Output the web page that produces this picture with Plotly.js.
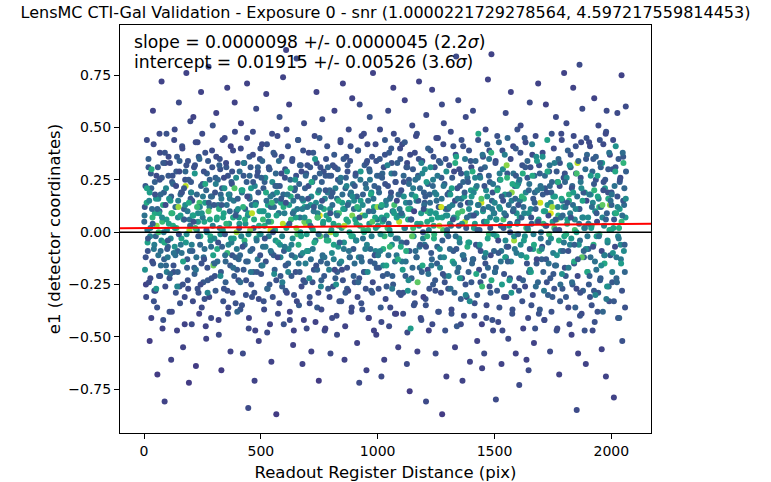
<!DOCTYPE html>
<html>
<head>
<meta charset="utf-8">
<script src="https://cdn.plot.ly/plotly-3.0.1.min.js"></script>
<style>
  html, body { margin: 0; padding: 0; background: #fff; }
  #chart { width: 771px; height: 482px; }
</style>
</head>
<body>
<div id="chart"></div>
<script>
// galaxies, one line per 100 pix strip of the register
// wide spread (incl. the outliers)
var readoutDist = [
  3,8,12,15,19,24,27,31,35,38,42,46,50,53,57,61,64,68,71,75,78,82,85,88,91,94,96,98,44,66,
  102,105,109,113,116,120,124,127,131,134,138,141,145,149,152,156,160,163,167,171,174,178,181,185,188,192,195,198,143,176,
  201,204,208,211,215,218,222,226,229,233,237,240,244,247,251,255,258,262,266,269,273,276,280,284,287,291,294,298,231,259,
  303,306,309,313,317,320,324,327,331,334,338,342,345,349,352,356,359,363,367,370,374,377,381,384,388,392,395,398,328,361,
  401,405,408,412,415,419,423,426,430,433,437,441,444,448,451,455,458,462,466,469,473,476,480,483,487,491,494,498,446,452,
  502,505,509,512,516,520,523,527,530,534,537,541,545,548,552,555,559,563,566,570,573,577,580,584,588,591,595,598,565,543,
  603,606,610,613,617,621,624,628,631,635,638,642,646,649,653,656,660,663,667,671,674,678,681,685,689,692,696,699,608,687,
  702,705,709,713,716,720,723,727,730,734,738,741,745,748,752,755,759,763,766,770,773,777,780,784,788,791,795,798,743,757,
  801,805,808,812,815,819,823,826,830,833,837,841,844,848,851,855,858,862,866,869,873,876,880,883,887,891,894,898,827,871,
  902,905,909,912,916,919,923,927,930,934,937,941,944,948,952,955,959,962,966,969,973,977,980,984,987,991,994,998,921,964,
  1003,1006,1010,1013,1017,1020,1024,1028,1031,1035,1038,1042,1045,1049,1052,1056,1060,1063,1067,1070,1074,1077,1081,1085,1088,1092,1095,1099,1016,1058,
  1102,1105,1109,1112,1116,1120,1123,1127,1130,1134,1137,1141,1145,1148,1152,1155,1159,1162,1166,1170,1173,1177,1180,1184,1187,1191,1194,1198,1125,1168,
  1201,1205,1208,1212,1215,1219,1223,1226,1230,1233,1237,1240,1244,1248,1251,1255,1258,1262,1266,1269,1273,1276,1280,1283,1287,1291,1294,1298,1207,1275,
  1302,1306,1309,1313,1316,1320,1324,1327,1331,1334,1338,1341,1345,1349,1352,1356,1359,1363,1366,1370,1374,1377,1381,1384,1388,1391,1395,1398,1336,1361,
  1401,1404,1408,1412,1415,1419,1422,1426,1430,1433,1437,1440,1444,1447,1451,1455,1458,1462,1465,1469,1472,1476,1480,1483,1487,1490,1494,1498,1456,1478,
  1502,1505,1509,1512,1516,1520,1523,1527,1530,1534,1538,1541,1545,1548,1552,1555,1559,1563,1566,1570,1573,1577,1580,1584,1587,1591,1595,1598,1506,1549,
  1601,1605,1608,1612,1616,1619,1623,1626,1630,1633,1637,1641,1644,1648,1651,1655,1658,1662,1666,1669,1673,1676,1680,1683,1687,1690,1694,1698,1606,1646,
  1702,1706,1709,1713,1716,1720,1724,1727,1731,1734,1738,1741,1745,1748,1752,1756,1759,1763,1766,1770,1773,1777,1780,1784,1788,1791,1795,1798,1743,1767,
  1801,1805,1808,1812,1816,1819,1823,1826,1830,1833,1837,1841,1844,1848,1851,1855,1858,1862,1866,1869,1873,1876,1880,1883,1887,1891,1894,1898,1852,1864,
  1902,1905,1909,1912,1916,1920,1923,1927,1930,1934,1937,1941,1945,1948,1952,1955,1959,1962,1966,1970,1973,1977,1980,1984,1987,1991,1994,1998,1926,1978,
  2001,2004,2008,2011,2015,2018,2022,2026,2029,2033,2036,2040,2044,2047,2051,2055,2058,2062
];

var e1 = [
  .12,-.25,.44,-.05,.31,-.52,.02,.21,-.14,.58,-.33,.09,-.02,.27,-.68,.16,-.21,.38,-.09,.72,.05,-.42,.19,-.81,.33,-.16,.47,.01,-.28,.10,
  -.07,.36,-.38,.15,-.61,.24,.03,-.19,.49,-.11,.29,-.47,.07,.62,-.26,.18,-.03,.41,-.55,.11,-.31,.22,.76,-.13,.34,-.72,.06,.53,-.09,.25,
  .19,-.44,.08,.55,-.17,.32,-.64,.01,.43,-.29,.14,-.06,.67,-.36,.23,-.12,.05,.38,-.51,.28,-.23,.79,.12,-.02,-.41,.17,.51,-.15,.09,-.32,
  -.21,.26,.57,-.08,.13,-.49,.35,-.01,-.66,.21,.07,-.27,.45,-.14,.31,.69,-.39,.04,.16,-.57,.24,-.11,.39,-.03,.62,-.34,.10,-.18,.18,-.06,
  .33,-.13,.04,-.37,.52,.19,-.58,.27,-.04,.11,-.23,.71,.08,-.46,.36,-.09,.21,-.31,.48,.02,-.71,.14,.59,-.19,.29,-.52,-.01,.40,-.84,.16,
  -.16,.42,.06,-.33,.24,-.07,.66,-.48,.13,.31,-.25,.01,-.62,.47,.18,-.11,.37,-.04,-.87,.22,-.39,.09,.55,-.21,.28,-.02,.74,-.44,.15,.12,
  .26,-.28,.49,.03,-.15,.61,-.42,.17,-.06,.35,-.54,.10,.21,-.19,.83,-.01,.44,-.35,.07,-.11,.29,-.63,.15,.52,-.24,.04,-.46,.32,.87,.12,
  -.09,.38,-.31,.13,-.57,.24,.01,-.18,.46,-.04,.67,-.36,.19,-.71,.08,.31,-.23,.54,-.12,.11,-.47,.27,-.02,.41,-.27,.06,.20,-.58,.09,-.14,
  .17,-.41,.32,-.06,.58,-.22,.09,-.49,.25,.03,-.15,.43,-.33,.14,.71,-.08,-.61,.21,.36,-.27,.05,.49,-.12,.18,-.38,.64,-.02,.11,-.19,.29,
  -.24,.27,.04,-.53,.39,-.12,.61,.15,-.34,.08,-.03,.47,-.19,.23,-.66,.34,.01,-.41,.55,-.08,.19,-.29,.76,.12,-.15,.42,-.49,.06,-.72,.30,
  .21,-.17,.49,-.36,.07,.28,-.08,-.61,.37,.13,-.26,.02,.58,-.45,.16,-.01,.33,-.21,.69,.09,-.39,.24,-.11,.44,-.55,.05,.18,-.30,-.69,.40,
  -.05,.42,-.29,.17,.63,-.14,.31,-.48,.06,.25,-.76,.11,-.22,.51,.02,-.35,.38,-.09,.15,-.57,.27,.72,-.17,.04,-.42,.34,-.03,.19,-.63,.47,
  .14,-.32,.56,-.02,.23,-.47,.09,.39,-.16,.68,-.25,.03,.31,-.58,.18,-.07,.45,-.38,.12,-.12,.26,-.87,.01,.52,-.21,.35,-.69,.08,-.81,.61,
  -.27,.19,.04,.48,-.39,.13,-.09,.29,-.55,.37,.07,-.19,.63,-.03,.22,-.44,.16,-.71,.41,-.13,.05,.55,-.31,.26,-.05,.11,-.62,.34,.84,-.22,
  .31,-.15,.58,.02,-.34,.21,.09,-.52,.44,-.07,.27,-.24,.14,-.65,.36,.05,-.12,.49,-.41,.17,.73,-.01,.24,-.29,.85,.11,-.47,-.09,-.58,.39,
  -.19,.34,-.02,.46,-.43,.12,.25,-.14,-.63,.39,.06,-.31,.18,.57,-.07,.28,-.51,.03,-.22,.67,.15,-.37,.41,-.04,.22,-.58,.09,.49,-.80,-.12,
  .23,-.28,.07,.51,-.11,.32,-.46,.16,-.02,.43,-.61,.26,.01,-.19,.62,.11,-.35,.37,-.08,-.53,.19,.46,-.15,.05,.71,-.39,.28,-.03,-.73,-.66,
  -.13,.38,.04,-.42,.21,.61,-.24,.13,-.05,.29,-.57,.09,.47,-.31,.17,.02,-.16,.55,-.47,.24,.08,-.68,.33,-.09,.44,-.27,.12,.76,.19,.06,
  .28,-.21,.52,.06,-.36,.15,-.06,.37,-.49,.22,.69,-.15,.01,.41,-.27,.33,-.58,.11,-.04,.26,-.39,.59,.07,-.12,.19,-.63,.45,-.02,-.85,.80,
  -.08,.43,-.31,.18,.03,-.47,.35,.64,-.14,.25,-.02,-.38,.51,.12,-.23,.31,-.56,.07,.42,-.11,.21,-.69,.58,-.05,.16,-.33,.37,.01,-.28,.48,
  .19,-.24,.44,-.79,.09,.31,-.12,.57,-.41,.02,.24,-.06,.75,-.52,.36,.13,-.19,.60
];

var snr = [
  1.6,1.4,1.5,2.9,1.7,1.3,2.2,1.8,1.5,1.4,1.6,3.0,1.9,1.5,1.3,2.4,1.7,1.5,2.0,1.4,3.3,1.6,1.8,1.4,1.5,1.9,1.6,2.6,1.7,1.8,
  1.8,1.5,1.6,2.8,1.4,1.7,3.1,1.6,1.5,2.0,1.7,1.4,2.5,1.5,1.6,1.9,2.9,1.6,1.4,1.8,1.5,4.2,1.4,1.7,1.6,1.3,2.1,1.5,1.8,1.6,
  1.7,1.5,2.7,1.4,1.8,1.6,1.3,2.3,1.5,1.6,3.4,1.9,1.4,1.5,1.7,2.0,2.9,1.6,1.4,1.8,1.7,1.5,2.2,3.0,1.5,1.9,1.6,1.8,2.5,1.6,
  1.6,1.8,1.4,3.0,2.1,1.5,1.6,2.6,1.3,1.7,2.9,1.6,1.5,1.9,1.7,1.4,1.5,4.0,2.2,1.4,1.8,1.6,1.5,2.8,1.4,1.6,2.0,1.7,1.9,2.4,
  1.5,1.9,2.7,1.6,1.4,2.1,1.5,1.7,3.2,1.8,1.6,1.4,2.4,1.5,1.7,2.0,2.8,1.6,1.5,1.9,1.4,2.3,1.5,1.7,1.6,1.4,3.1,1.6,1.5,1.8,
  1.7,1.5,3.3,1.6,1.8,2.2,1.4,1.5,2.9,1.6,1.7,4.3,1.4,1.5,2.0,1.8,1.6,2.6,1.3,1.9,1.5,3.0,1.6,1.7,1.5,2.4,1.4,1.6,2.1,1.9,
  1.6,1.7,1.5,2.8,1.9,1.4,1.5,3.1,2.3,1.6,1.4,2.7,1.8,1.6,1.5,3.4,1.6,1.7,2.1,1.9,1.5,1.4,2.6,1.5,1.7,4.1,1.5,1.6,1.4,2.9,
  1.9,1.5,1.6,2.7,1.4,1.8,3.2,1.6,1.5,2.2,1.4,1.7,2.9,1.3,4.4,1.6,1.8,1.5,2.5,3.0,1.5,1.7,2.1,1.6,1.7,2.8,1.9,1.5,2.4,1.8,
  1.7,1.5,1.6,2.9,1.4,1.8,2.5,1.5,1.7,3.3,2.0,1.5,1.6,2.8,1.4,2.2,1.4,1.9,1.6,1.7,3.1,1.5,2.4,1.8,1.5,1.4,2.7,2.0,1.8,1.6,
  1.6,1.8,3.0,1.4,1.6,2.3,1.5,2.8,1.6,4.0,2.1,1.5,1.7,1.9,1.4,1.6,3.2,1.5,1.6,2.0,2.6,1.7,1.4,2.9,1.8,1.5,1.4,2.2,1.5,1.7,
  1.7,1.6,1.5,1.7,2.8,1.9,3.1,1.4,1.6,2.4,1.7,3.4,1.5,1.5,2.0,2.7,1.6,1.8,1.4,2.9,1.5,1.7,2.2,1.6,1.4,4.2,1.9,1.6,1.5,1.7,
  1.9,1.5,1.6,2.6,1.4,2.1,1.6,1.5,3.0,1.7,1.3,2.8,1.8,1.5,3.3,1.6,1.5,2.0,2.5,1.4,1.7,1.4,1.9,3.1,1.6,1.5,2.4,1.8,1.5,1.6,
  1.7,1.6,1.5,3.2,1.8,1.4,2.7,1.6,2.2,1.4,1.7,3.0,1.6,1.5,2.4,1.9,1.5,1.6,2.9,2.1,1.7,1.3,3.5,1.5,1.8,1.6,1.4,2.6,1.5,1.5,
  1.6,1.8,2.9,1.5,1.6,2.3,1.7,1.5,1.4,1.6,3.2,1.9,1.5,2.7,1.7,1.5,2.1,1.4,1.6,1.8,4.1,1.5,1.6,2.0,3.0,2.5,1.4,1.7,1.5,1.6,
  1.5,1.9,1.5,2.8,1.6,3.1,2.4,1.4,1.6,1.9,1.7,1.6,4.3,1.4,1.6,2.9,2.0,1.5,1.6,2.6,1.4,3.3,1.8,1.7,1.4,2.2,1.5,1.9,1.5,1.6,
  1.7,1.5,3.0,1.6,1.5,2.5,1.8,2.1,1.4,1.6,3.4,1.6,2.7,1.5,1.9,1.7,1.5,2.8,1.6,1.4,2.3,1.6,1.5,4.0,1.8,1.4,2.6,1.6,1.5,2.0,
  1.6,1.7,2.9,1.5,2.2,1.6,1.4,3.1,2.6,1.5,1.4,1.7,3.3,1.8,1.5,2.4,1.6,1.5,2.8,1.4,1.9,1.5,1.7,3.0,1.4,1.6,1.8,2.1,1.5,1.5,
  1.8,1.5,3.2,1.5,1.7,1.4,1.6,2.7,2.0,1.6,1.5,4.4,1.6,1.7,2.9,3.5,1.8,1.5,1.6,2.2,3.0,1.4,1.6,2.5,1.5,1.7,2.8,1.4,1.9,4.0,
  1.6,1.7,1.5,2.8,1.5,3.1,2.3,1.6,1.4,1.9,1.4,1.7,3.4,1.6,1.5,4.2,1.4,2.7,2.0,1.6,1.5,1.5,2.6,1.8,2.9,1.4,1.6,2.2,1.5,1.5,
  1.8,1.5,1.6,2.6,3.0,1.5,1.7,1.4,2.1,1.6,2.8,1.6,1.5,3.2,1.7,1.8,1.4,2.4,1.5,1.9,2.7,1.4,1.5,2.3,3.0,1.6,1.5,2.0,1.7,1.6,
  1.6,1.7,1.5,1.4,2.7,1.6,2.2,1.5,1.6,3.1,1.8,2.5,1.4,1.6,1.7,2.0,1.9,1.5
];

// dense core of the cloud (|e1| < 0.5)
var coreDist = [
  1,4,6,9,11,14,16,19,21,24,26,29,31,34,36,39,41,44,46,49,51,54,56,59,61,64,66,69,71,74,76,79,81,84,86,89,91,94,96,99,
  101,104,106,109,111,114,116,119,121,124,126,129,131,134,136,139,141,144,146,149,151,154,156,159,161,164,166,169,171,174,176,179,181,184,186,189,191,194,196,199,
  201,204,206,209,211,214,216,219,221,224,226,229,231,234,236,239,241,244,246,249,251,254,256,259,261,264,266,269,271,274,276,279,281,284,286,289,291,294,296,299,
  301,304,306,309,311,314,316,319,321,324,326,329,331,334,336,339,341,344,346,349,351,354,356,359,361,364,366,369,371,374,376,379,381,384,386,389,391,394,396,399,
  401,404,406,409,411,414,416,419,421,424,426,429,431,434,436,439,441,444,446,449,451,454,456,459,461,464,466,469,471,474,476,479,481,484,486,489,491,494,496,499,
  501,504,506,509,511,514,516,519,521,524,526,529,531,534,536,539,541,544,546,549,551,554,556,559,561,564,566,569,571,574,576,579,581,584,586,589,591,594,596,599,
  601,604,606,609,611,614,616,619,621,624,626,629,631,634,636,639,641,644,646,649,651,654,656,659,661,664,666,669,671,674,676,679,681,684,686,689,691,694,696,699,
  701,704,706,709,711,714,716,719,721,724,726,729,731,734,736,739,741,744,746,749,751,754,756,759,761,764,766,769,771,774,776,779,781,784,786,789,791,794,796,799,
  801,804,806,809,811,814,816,819,821,824,826,829,831,834,836,839,841,844,846,849,851,854,856,859,861,864,866,869,871,874,876,879,881,884,886,889,891,894,896,899,
  901,904,906,909,911,914,916,919,921,924,926,929,931,934,936,939,941,944,946,949,951,954,956,959,961,964,966,969,971,974,976,979,981,984,986,989,991,994,996,999,
  1001,1004,1006,1009,1011,1014,1016,1019,1021,1024,1026,1029,1031,1034,1036,1039,1041,1044,1046,1049,1051,1054,1056,1059,1061,1064,1066,1069,1071,1074,1076,1079,1081,1084,1086,1089,1091,1094,1096,1099,
  1101,1104,1106,1109,1111,1114,1116,1119,1121,1124,1126,1129,1131,1134,1136,1139,1141,1144,1146,1149,1151,1154,1156,1159,1161,1164,1166,1169,1171,1174,1176,1179,1181,1184,1186,1189,1191,1194,1196,1199,
  1201,1204,1206,1209,1211,1214,1216,1219,1221,1224,1226,1229,1231,1234,1236,1239,1241,1244,1246,1249,1251,1254,1256,1259,1261,1264,1266,1269,1271,1274,1276,1279,1281,1284,1286,1289,1291,1294,1296,1299,
  1301,1304,1306,1309,1311,1314,1316,1319,1321,1324,1326,1329,1331,1334,1336,1339,1341,1344,1346,1349,1351,1354,1356,1359,1361,1364,1366,1369,1371,1374,1376,1379,1381,1384,1386,1389,1391,1394,1396,1399,
  1401,1404,1406,1409,1411,1414,1416,1419,1421,1424,1426,1429,1431,1434,1436,1439,1441,1444,1446,1449,1451,1454,1456,1459,1461,1464,1466,1469,1471,1474,1476,1479,1481,1484,1486,1489,1491,1494,1496,1499,
  1501,1504,1506,1509,1511,1514,1516,1519,1521,1524,1526,1529,1531,1534,1536,1539,1541,1544,1546,1549,1551,1554,1556,1559,1561,1564,1566,1569,1571,1574,1576,1579,1581,1584,1586,1589,1591,1594,1596,1599,
  1601,1604,1606,1609,1611,1614,1616,1619,1621,1624,1626,1629,1631,1634,1636,1639,1641,1644,1646,1649,1651,1654,1656,1659,1661,1664,1666,1669,1671,1674,1676,1679,1681,1684,1686,1689,1691,1694,1696,1699,
  1701,1704,1706,1709,1711,1714,1716,1719,1721,1724,1726,1729,1731,1734,1736,1739,1741,1744,1746,1749,1751,1754,1756,1759,1761,1764,1766,1769,1771,1774,1776,1779,1781,1784,1786,1789,1791,1794,1796,1799,
  1801,1804,1806,1809,1811,1814,1816,1819,1821,1824,1826,1829,1831,1834,1836,1839,1841,1844,1846,1849,1851,1854,1856,1859,1861,1864,1866,1869,1871,1874,1876,1879,1881,1884,1886,1889,1891,1894,1896,1899,
  1901,1904,1906,1909,1911,1914,1916,1919,1921,1924,1926,1929,1931,1934,1936,1939,1941,1944,1946,1949,1951,1954,1956,1959,1961,1964,1966,1969,1971,1974,1976,1979,1981,1984,1986,1989,1991,1994,1996,1999,
  2001,2004,2006,2009,2011,2014,2016,2019,2021,2024,2026,2029,2031,2034,2036,2039,2041,2044,2046,2049,2051,2054,2056,2059,2061,2063
];

var coreE1 = [
  .05,-.18,.22,-.31,.14,.01,-.09,.35,-.24,.19,-.02,.28,-.41,.11,.07,-.15,.42,-.06,.24,-.28,.16,.03,-.36,.31,-.11,.09,.47,-.21,.18,-.04,.26,-.46,.13,.00,-.13,.38,-.26,.21,.06,-.08,
  -.12,.27,.04,-.22,.33,-.03,.17,-.38,.09,.23,-.16,.44,-.07,.12,-.29,.02,.36,-.19,.15,-.01,.29,-.34,.08,.19,-.10,.40,-.25,.06,.21,-.44,.13,-.05,.32,-.17,.10,-.27,.25,.01,-.09,.16,
  .24,-.06,.15,-.33,.08,.31,-.20,.02,.43,-.12,.18,-.27,.05,.36,-.39,.12,-.02,.22,-.15,.47,.07,-.24,.29,-.08,.14,-.45,.20,.00,-.17,.34,.10,-.31,.25,-.04,.17,-.22,.39,.03,-.11,.13,
  -.03,.19,-.28,.36,.06,-.14,.25,-.42,.11,.02,.30,-.19,.16,-.07,.44,-.33,.09,.21,-.01,-.24,.33,.13,-.10,.27,-.36,.04,.18,-.16,.41,-.05,.23,-.29,.07,.15,-.21,.48,-.12,.26,.00,-.38,
  .16,-.23,.07,.29,-.11,.40,-.02,-.35,.20,.12,-.18,.33,-.06,.04,-.30,.24,.45,-.14,.09,-.41,.17,.01,.31,-.25,.13,-.08,.37,-.19,.06,.22,-.47,.14,-.03,.27,-.13,.19,-.32,.10,.35,-.01,
  -.20,.10,.34,-.07,.21,-.37,.03,.26,-.14,.15,.42,-.27,.08,-.02,.30,-.44,.17,.05,-.10,.24,-.31,.38,.12,-.18,.01,.28,-.23,.19,.46,-.05,.09,-.34,.22,-.12,.14,.36,-.26,.04,.18,-.09,
  .09,.30,-.16,.02,-.29,.18,.41,-.08,.13,-.38,.25,.06,-.21,.34,-.03,.15,-.47,.20,-.12,.07,.27,-.33,.11,.44,-.06,.23,-.19,.00,.32,-.26,.16,-.10,.39,-.42,.05,.21,-.15,.28,-.01,.12,
  -.09,.22,.05,-.34,.31,-.13,.17,.02,-.24,.38,.10,-.05,.26,-.43,.14,.33,-.18,.07,-.29,.20,.45,-.02,.12,-.37,.24,-.11,.04,.29,-.21,.16,-.46,.35,.08,-.15,.19,-.04,.27,-.31,.11,.00,
  .27,-.10,.13,-.26,.04,.37,-.18,.21,-.01,-.40,.16,.30,-.07,.09,-.33,.24,.44,-.14,.02,.18,-.23,.35,-.05,.11,-.45,.26,.06,-.17,.32,-.28,.14,.00,-.12,.41,.19,-.36,.08,.23,-.08,.15,
  -.15,.06,.28,-.04,.17,-.31,.39,.11,-.22,.03,.25,-.12,.46,-.37,.13,.01,-.19,.32,.08,-.27,.21,-.06,.42,.15,-.41,.04,.29,-.14,.18,-.02,.36,-.24,.10,-.47,.22,.07,-.09,.34,-.17,.12,
  .03,-.27,.19,.35,-.09,.12,-.43,.26,.05,-.16,.31,-.02,.44,-.32,.15,.08,-.20,.22,-.11,.38,.01,-.36,.17,.28,-.06,.10,-.25,.47,.13,-.14,.24,-.39,.07,.33,-.03,.18,-.29,.11,.40,-.07,
  .20,-.14,.08,-.39,.27,.02,.43,-.21,.14,-.05,.33,-.28,.11,.23,-.09,.37,-.46,.06,.18,-.17,.30,-.02,.10,-.34,.25,.46,-.12,.04,-.24,.15,.35,-.07,.21,-.41,.09,-.19,.28,.00,-.31,.13,
  -.06,.17,-.35,.24,.10,-.18,.40,.01,-.27,.14,.31,-.10,.06,-.44,.22,.36,-.03,.19,-.23,.09,.45,-.15,.27,-.38,.12,.03,-.08,.33,-.29,.16,.07,-.20,.42,-.12,.23,-.47,.11,.29,-.01,.18,
  .11,-.21,.32,-.08,.18,.03,-.37,.26,-.14,.41,.07,-.29,.15,-.02,.36,-.45,.21,.09,-.17,.30,-.05,.13,-.32,.44,.04,-.11,.24,-.40,.17,.35,-.25,.02,.28,-.07,.14,-.19,.39,-.33,.08,.20,
  -.24,.08,.29,-.13,.19,-.40,.04,.34,-.06,.22,-.30,.13,.47,-.18,.01,.26,-.09,.16,-.44,.37,.10,-.21,.05,.31,-.15,.20,-.35,.42,-.03,.12,.27,-.26,.07,-.11,.38,.15,-.42,.23,-.01,.09,
  .14,.33,-.17,.06,-.28,.21,-.04,.43,-.36,.11,.25,-.09,.17,-.47,.30,.02,-.20,.37,-.12,.08,-.31,.26,.45,-.07,.13,-.23,.04,.35,-.14,.19,-.39,.10,.28,-.02,-.26,.16,.40,-.10,.22,.05,
  -.01,.24,-.22,.15,.38,-.11,.07,-.33,.28,.12,-.04,.45,-.26,.19,.02,-.15,.34,-.41,.09,.23,-.08,.31,-.19,.04,.42,-.30,.16,-.06,.27,-.46,.11,.36,-.13,.20,-.24,.06,.32,-.37,.14,.00,
  .21,-.07,.36,-.19,.10,-.42,.27,.03,-.13,.19,.44,-.30,.08,-.01,.32,-.22,.14,-.38,.24,.05,-.10,.40,-.27,.17,.01,-.16,.29,-.46,.12,.35,-.04,.22,-.33,.07,.47,-.20,.15,-.09,.26,-.02,
  -.17,.12,-.31,.26,.04,.39,-.09,.18,-.44,.09,.31,-.03,.21,-.25,.13,.46,-.14,.06,-.36,.28,.00,.17,-.21,.34,-.06,.11,-.40,.24,.43,-.12,.07,-.28,.19,.02,-.47,.30,-.08,.15,.37,-.19,
  .07,-.25,.18,.41,-.12,.02,-.35,.29,.14,-.06,.23,-.43,.10,.36,-.18,.05,.27,-.29,.16,-.01,.44,-.22,.12,-.09,.33,-.38,.20,.03,-.15,.25,.47,-.32,.09,-.04,.19,-.26,.38,.13,-.11,.01,
  .13,-.19,.30,.02,-.33,.22,-.07,.41,.09,-.24,.17,-.02,.35,-.41,.11,.26,-.13,.05,-.28,.38,.15,-.09,.21,-.36,.07,.29
];

var coreSnr = [
  1.9,2.6,1.7,1.5,3.0,2.2,1.6,1.8,1.5,2.8,2.4,1.7,1.4,2.0,3.2,1.6,1.5,2.3,1.8,1.5,2.7,3.9,1.6,1.7,2.1,2.9,1.5,1.6,1.9,2.5,1.7,1.4,3.1,2.2,1.8,1.6,1.5,2.4,2.8,1.7,
  2.2,1.7,2.9,1.6,1.5,2.4,1.8,1.5,3.1,1.9,1.6,1.5,2.6,2.0,1.6,3.4,1.7,1.8,2.3,1.6,1.5,1.6,2.8,1.9,2.1,1.5,1.6,3.0,1.7,1.4,2.5,2.7,1.6,1.8,2.2,1.5,1.7,4.1,2.0,1.6,
  1.7,2.3,1.6,1.5,2.9,1.6,1.8,3.3,1.5,2.1,1.9,1.6,2.7,1.7,1.4,2.4,3.0,1.8,1.6,1.5,2.2,1.7,1.6,2.0,2.8,1.4,1.9,2.5,1.6,1.7,3.6,1.5,1.8,2.6,1.9,1.6,1.5,2.3,2.9,1.7,
  2.5,1.6,1.7,1.5,2.8,2.0,1.9,1.4,3.1,2.4,1.6,1.7,2.2,1.8,1.5,1.6,2.9,2.6,1.7,1.8,1.5,2.1,3.3,1.6,1.5,2.7,1.9,1.7,1.4,2.3,1.6,1.5,3.0,2.2,1.7,1.5,1.8,2.5,4.0,1.9,
  1.8,1.6,2.7,2.0,1.9,1.5,2.4,1.6,2.9,3.2,1.7,1.5,2.1,2.6,1.6,1.8,1.5,1.9,2.8,1.4,2.3,3.8,1.7,1.6,2.0,1.8,1.5,1.7,3.0,2.4,1.4,1.9,2.6,1.6,2.2,1.7,1.5,2.9,1.6,2.5,
  1.6,2.8,1.9,2.1,1.7,1.5,3.1,2.4,1.6,2.0,1.6,1.8,2.7,2.3,1.5,1.4,2.2,3.4,1.7,2.5,1.6,1.7,2.0,1.8,2.9,1.9,1.6,2.6,1.5,3.0,2.1,1.5,1.7,2.4,2.8,1.5,1.8,4.2,1.9,1.7,
  2.3,1.6,1.7,3.0,1.5,2.2,1.6,2.5,2.8,1.4,1.9,3.3,1.7,1.6,2.6,2.1,1.4,1.8,2.4,2.9,1.6,1.5,2.2,1.7,3.1,1.9,1.7,2.7,1.6,1.5,2.0,2.5,1.6,1.4,3.7,1.8,2.3,1.6,2.8,2.1,
  2.6,1.6,3.2,1.5,1.7,2.0,2.4,2.9,1.6,1.7,2.2,3.0,1.8,1.4,2.5,1.6,1.9,2.7,1.5,2.1,1.7,3.5,2.3,1.5,1.8,2.0,2.8,1.6,1.7,2.4,1.4,1.6,2.9,1.9,2.2,3.1,1.7,1.5,2.6,4.1,
  1.7,2.5,2.0,1.6,2.9,1.7,1.5,2.3,3.1,1.5,2.1,1.8,2.7,3.4,1.6,1.9,1.5,2.4,2.8,2.0,1.6,1.7,2.6,2.2,1.4,1.8,3.0,1.6,1.7,1.5,2.4,2.9,1.9,1.6,2.2,1.5,3.8,2.1,1.7,2.5,
  2.0,2.9,1.6,2.3,1.8,1.5,1.7,2.6,1.6,3.1,2.2,1.9,1.5,1.6,2.5,3.3,1.7,1.8,2.8,1.6,2.1,2.4,1.5,2.0,1.4,2.7,1.9,1.7,3.0,2.3,1.6,1.5,2.1,1.4,1.8,2.9,2.4,1.6,1.7,3.9,
  2.8,1.6,1.9,1.7,2.4,2.1,1.5,1.8,3.0,2.5,1.6,3.2,1.7,1.5,2.2,2.9,1.8,1.6,2.0,1.7,2.7,1.5,1.9,2.3,2.6,1.6,1.7,1.5,3.4,2.1,1.6,1.4,2.8,1.8,2.4,1.9,1.6,2.2,1.5,3.0,
  1.6,2.2,2.7,1.5,1.9,3.0,1.7,1.8,2.4,1.6,1.5,2.6,3.1,2.0,1.7,1.5,2.8,1.6,2.3,1.9,1.7,2.5,1.4,1.6,2.1,1.5,1.8,2.9,3.6,1.7,1.6,2.2,1.9,1.5,2.7,1.8,2.4,1.6,1.4,2.0,
  2.1,1.7,1.6,2.8,3.2,1.5,1.8,2.4,1.6,2.0,2.6,1.7,2.9,1.5,1.9,1.6,3.1,2.3,1.7,2.7,1.5,1.8,2.2,1.6,1.7,4.0,2.5,1.9,1.5,2.1,2.8,1.6,1.5,2.4,1.8,1.6,2.0,2.6,3.0,1.7,
  1.8,2.4,1.6,1.9,2.7,2.2,1.5,1.7,3.0,1.6,2.5,1.8,1.5,2.1,2.9,1.7,1.6,3.3,2.0,1.5,2.3,1.8,1.7,1.6,2.6,2.0,1.9,1.5,2.8,2.2,1.6,1.7,2.4,3.1,1.5,1.8,1.6,2.5,1.9,2.7,
  1.7,2.0,3.1,1.6,2.4,1.5,2.8,1.9,1.6,2.2,1.7,2.6,3.0,1.5,1.8,2.3,1.6,3.5,1.4,2.1,2.7,1.7,2.0,1.9,1.6,2.5,1.5,1.7,2.9,2.2,1.8,1.6,2.4,1.5,3.2,1.9,1.6,2.1,2.6,1.7,
  2.4,1.6,1.8,2.9,1.7,2.2,1.5,1.9,1.6,2.6,3.0,2.1,1.7,1.5,2.5,1.8,1.6,2.3,2.8,1.7,1.5,3.2,1.9,1.6,2.0,2.7,1.8,1.5,2.4,3.9,1.6,1.7,2.1,2.6,1.5,1.9,1.7,2.2,2.9,1.8,
  1.9,2.7,1.5,2.2,1.6,2.5,1.8,1.6,3.1,2.0,2.8,1.7,1.5,2.4,3.3,1.6,1.9,1.5,2.6,2.1,1.7,1.6,2.9,1.8,2.3,1.5,1.7,3.0,2.0,1.6,1.8,2.5,1.5,2.2,1.9,2.8,1.6,1.7,4.3,2.1,
  2.2,1.6,2.6,1.8,3.0,1.5,2.0,2.4,1.7,1.6,2.9,1.8,1.5,3.4,2.1,1.7,2.5,1.6,1.9,2.7,2.3,1.5,1.6,2.8,1.8,2.0,1.7,1.5,2.4,1.9,3.1,1.6,1.7,2.2,1.5,2.6,2.0,1.8,1.6,2.9,
  1.6,2.1,1.7,2.5,2.9,1.8,1.6,3.2,1.5,2.3,1.9,2.7,1.6,1.7,2.0,1.5,3.0,2.4,1.8,1.6,2.8,2.1,1.5,1.9,2.6,1.7,1.6,2.2,1.5,3.6,2.4,1.8,1.7,2.9,1.6,2.0,2.5,1.5,1.9,2.3,
  2.5,1.7,2.2,1.5,2.0,2.8,1.6,1.9,2.4,3.1,1.7,1.6,2.6,1.8,2.1,1.5,2.9,1.7,2.3,3.4,1.6,1.8,2.0,1.5,2.7,1.9,1.6,2.4,3.0,1.7,1.5,2.2,1.8,2.6,1.6,1.9,2.1,4.0,1.7,2.8,
  1.8,2.3,1.6,2.9,1.7,2.1,1.5,2.6,3.1,1.9,1.6,2.4,1.7,1.8,2.8,1.5,2.2,3.3,1.6,2.0,1.7,2.5,1.9,1.6,2.7,1.8
];

// densest middle band (-0.3 < e1 < 0.35)
var bandDist = [
  2,7,12,17,22,27,32,37,42,47,52,57,62,67,72,77,82,87,92,97,
  102,107,112,117,122,127,132,137,142,147,152,157,162,167,172,177,182,187,192,197,
  202,207,212,217,222,227,232,237,242,247,252,257,262,267,272,277,282,287,292,297,
  302,307,312,317,322,327,332,337,342,347,352,357,362,367,372,377,382,387,392,397,
  402,407,412,417,422,427,432,437,442,447,452,457,462,467,472,477,482,487,492,497,
  502,507,512,517,522,527,532,537,542,547,552,557,562,567,572,577,582,587,592,597,
  602,607,612,617,622,627,632,637,642,647,652,657,662,667,672,677,682,687,692,697,
  702,707,712,717,722,727,732,737,742,747,752,757,762,767,772,777,782,787,792,797,
  802,807,812,817,822,827,832,837,842,847,852,857,862,867,872,877,882,887,892,897,
  902,907,912,917,922,927,932,937,942,947,952,957,962,967,972,977,982,987,992,997,
  1002,1007,1012,1017,1022,1027,1032,1037,1042,1047,1052,1057,1062,1067,1072,1077,1082,1087,1092,1097,
  1102,1107,1112,1117,1122,1127,1132,1137,1142,1147,1152,1157,1162,1167,1172,1177,1182,1187,1192,1197,
  1202,1207,1212,1217,1222,1227,1232,1237,1242,1247,1252,1257,1262,1267,1272,1277,1282,1287,1292,1297,
  1302,1307,1312,1317,1322,1327,1332,1337,1342,1347,1352,1357,1362,1367,1372,1377,1382,1387,1392,1397,
  1402,1407,1412,1417,1422,1427,1432,1437,1442,1447,1452,1457,1462,1467,1472,1477,1482,1487,1492,1497,
  1502,1507,1512,1517,1522,1527,1532,1537,1542,1547,1552,1557,1562,1567,1572,1577,1582,1587,1592,1597,
  1602,1607,1612,1617,1622,1627,1632,1637,1642,1647,1652,1657,1662,1667,1672,1677,1682,1687,1692,1697,
  1702,1707,1712,1717,1722,1727,1732,1737,1742,1747,1752,1757,1762,1767,1772,1777,1782,1787,1792,1797,
  1802,1807,1812,1817,1822,1827,1832,1837,1842,1847,1852,1857,1862,1867,1872,1877,1882,1887,1892,1897,
  1902,1907,1912,1917,1922,1927,1932,1937,1942,1947,1952,1957,1962,1967,1972,1977,1982,1987,1992,1997,
  2002,2007,2012,2017,2022,2027,2032,2037,2042,2047,2052,2057,2062
];

var bandE1 = [
  .08,-.12,.21,-.03,.15,-.22,.30,.04,-.08,.18,-.27,.11,.00,.25,-.16,.07,.33,-.05,.13,-.19,
  -.04,.16,-.20,.09,.27,-.10,.02,.22,-.26,.12,.34,-.06,.19,-.14,.06,.29,-.01,-.23,.14,.03,
  .19,-.09,.05,.28,-.18,.12,-.02,.35,-.25,.09,.17,-.13,.23,.01,-.29,.14,.06,-.07,.31,-.16,
  -.15,.23,.07,-.05,.32,-.21,.13,.01,.26,-.11,.04,-.28,.18,.10,-.03,.29,-.17,.21,.08,-.08,
  .11,.02,-.24,.20,-.07,.33,.06,-.14,.17,-.01,.27,-.19,.09,.24,-.29,.13,-.04,.31,.03,-.11,
  .26,-.16,.10,-.03,.19,-.27,.05,.30,-.09,.14,.00,-.20,.22,.08,-.12,.34,-.06,.16,-.24,.12,
  -.07,.14,.29,-.19,.04,.21,-.11,.09,-.30,.25,.02,.17,-.15,.32,-.02,.11,-.23,.07,.27,-.09,
  .16,-.22,.03,.24,-.08,.12,.35,-.16,.07,-.01,.28,-.26,.15,.05,-.12,.20,-.04,.31,-.18,.09,
  .01,.19,-.13,.31,-.25,.08,.15,-.05,.26,-.18,.11,.03,-.29,.22,.13,-.09,.34,-.02,.17,-.21,
  .22,-.04,.12,-.24,.07,.29,-.14,.18,.00,-.08,.33,-.19,.10,.25,-.28,.05,.16,-.11,.02,.27,
  -.11,.27,-.01,.13,-.21,.06,.23,-.16,.32,.04,-.07,.19,-.27,.10,.28,-.03,.15,-.13,.08,.35,
  .09,-.18,.24,.02,-.09,.31,-.23,.14,.06,-.02,.21,-.29,.17,-.12,.26,.03,-.06,.33,-.16,.11,
  .30,-.07,.05,-.20,.18,.10,-.13,.25,-.01,-.28,.15,.07,.34,-.17,.12,-.04,.22,-.24,.08,.01,
  -.02,.12,-.27,.21,.06,-.15,.33,-.08,.16,.03,-.22,.28,.10,-.11,.19,-.30,.07,.24,-.05,.14,
  .17,-.13,.08,.26,-.20,.01,.13,-.06,.30,-.26,.11,.22,-.10,.05,-.17,.35,.02,-.23,.19,.09,
  -.19,.06,.20,-.10,.28,.03,-.25,.15,.09,-.04,.32,-.14,.18,.00,-.29,.23,.11,-.08,.27,.04,
  .13,.25,-.06,.17,-.23,.09,.31,-.12,.02,.20,-.18,.07,.27,-.01,.14,-.26,.34,.05,-.09,.22,
  -.08,.18,-.28,.10,.03,.29,-.15,.22,-.03,.12,-.20,.33,.06,-.11,.24,.01,-.25,.16,.08,-.05,
  .24,-.01,.14,-.17,.32,.07,-.24,.19,-.06,.11,.28,-.13,.04,-.29,.21,.15,-.09,.02,.35,-.19,
  .04,-.21,.27,.12,-.07,.20,-.30,.09,.17,-.02,.33,-.16,.13,.24,-.11,.06,-.26,.30,.01,.15,
  .18,-.10,.06,.29,-.22,.12,-.03,.25,-.15,.08,.33,-.06,.16
];

var bandSnr = [
  2.1,1.6,2.9,1.7,2.4,1.5,3.1,1.8,2.2,1.6,2.7,1.9,3.4,1.6,2.0,2.5,1.7,3.0,1.5,2.3,
  1.7,2.6,1.9,3.2,1.6,2.1,2.8,1.5,2.4,4.0,1.8,2.2,1.6,2.9,1.7,1.9,2.5,1.6,3.0,2.0,
  2.4,1.8,1.6,2.7,2.1,3.3,1.7,1.9,1.5,2.6,2.2,1.6,3.0,1.8,2.4,1.7,2.9,2.0,1.6,3.7,
  1.9,2.3,3.0,1.6,1.8,2.5,1.7,2.8,1.5,2.1,3.2,1.6,2.4,1.9,2.7,1.6,2.0,3.5,1.7,2.2,
  2.6,1.7,2.0,2.9,1.6,2.3,3.1,1.8,1.5,2.5,1.9,2.2,4.2,1.7,1.6,2.8,2.1,1.8,3.0,1.6,
  1.8,2.2,2.7,1.6,3.0,1.9,2.4,1.7,2.1,3.3,1.6,2.5,1.8,2.9,1.5,2.0,2.6,1.7,2.3,3.1,
  2.2,1.6,2.8,2.4,1.7,3.2,1.9,2.0,1.6,2.6,3.8,1.7,2.1,1.8,2.9,2.3,1.6,2.5,1.9,2.7,
  1.6,2.5,1.9,3.0,2.2,1.7,2.7,1.6,3.4,2.0,1.8,2.4,1.6,2.8,2.1,1.7,3.1,1.9,2.3,1.6,
  2.9,1.7,2.3,1.6,2.6,2.0,3.1,1.8,2.2,1.5,2.8,4.1,1.7,2.4,1.9,2.1,1.6,3.0,2.5,1.8,
  1.7,2.4,3.2,1.9,1.6,2.7,2.0,1.8,3.0,2.3,1.6,2.5,1.9,2.2,1.7,3.5,2.1,1.6,2.8,1.9,
  2.3,1.8,2.6,3.0,1.7,2.1,1.6,2.9,2.4,1.9,3.3,1.6,2.2,2.7,1.8,2.0,1.5,3.1,2.5,1.7,
  1.9,2.8,1.6,2.2,3.1,1.7,2.5,2.0,1.8,3.6,2.3,1.6,2.9,1.9,2.1,2.6,1.7,2.4,3.0,1.6,
  2.5,1.6,3.0,2.1,1.8,2.7,1.9,2.3,3.2,1.6,2.0,2.8,1.7,2.4,4.3,1.8,2.2,1.6,2.6,1.9,
  1.8,2.3,2.0,2.9,1.6,2.5,3.1,1.7,2.2,1.9,2.7,1.6,3.4,2.1,1.8,2.4,2.0,1.7,2.8,2.2,
  2.7,1.9,1.6,2.4,3.0,1.8,2.1,2.6,1.7,3.3,2.0,1.6,2.5,2.9,1.9,2.2,1.7,3.1,1.6,2.3,
  2.0,2.6,3.1,1.7,2.3,1.9,2.8,1.6,2.1,2.5,3.9,1.8,2.0,1.6,2.7,3.0,1.9,2.2,1.7,2.4,
  1.6,2.1,2.5,3.2,1.8,2.4,1.7,2.9,2.2,1.9,2.6,1.6,3.0,2.3,1.8,2.0,2.7,1.6,3.3,2.1,
  2.4,1.7,2.2,2.8,1.6,3.0,2.1,1.9,2.5,4.0,1.7,2.3,1.8,2.6,3.1,1.6,2.0,2.9,1.9,2.2,
  1.9,3.1,1.7,2.3,2.6,1.6,2.0,2.8,1.8,2.4,3.4,1.7,2.1,1.6,2.5,2.9,1.9,2.2,1.7,3.0,
  2.2,1.8,2.7,2.0,1.6,3.2,2.4,1.7,2.9,2.1,1.9,2.5,3.6,1.6,2.3,1.8,2.6,1.7,3.0,2.0,
  2.1,2.6,1.7,3.0,1.9,2.4,2.2,1.6,2.8,2.0,3.2,1.8,2.5
];

// linear fit
var fitSlope = 0.0000098;
var fitIntercept = 0.01915;
var xRange = [-103, 2170];
var yRange = [-0.96, 0.99];

var fitX = xRange.slice();
var fitY = fitX.map(function(x) { return fitIntercept + fitSlope * x; });

var allDist = readoutDist.concat(coreDist, bandDist);
var allE1 = e1.concat(coreE1, bandE1);
var allSnr = snr.concat(coreSnr, bandSnr);

var data = [
  {
    x: allDist,
    y: allE1,
    mode: 'markers',
    type: 'scatter',
    marker: {
      size: 6,
      color: allSnr,
      colorscale: 'Viridis',
      cmin: 0.6,
      cmax: 4.6,
      line: { width: 0 }
    },
    hoverinfo: 'skip'
  },
  {
    x: fitX,
    y: fitY,
    mode: 'lines',
    type: 'scatter',
    line: { color: '#ff0000', width: 2 },
    hoverinfo: 'skip'
  }
];

var axisFont = { family: 'DejaVu Sans', size: 14, color: '#000' };
var labelFont = { family: 'DejaVu Sans', size: 16.5, color: '#000' };
var noteFont = { family: 'DejaVu Sans', size: 17.2, color: '#000' };

var layout = {
  width: 771,
  height: 482,
  margin: { l: 120, r: 120, t: 25, b: 49 },
  paper_bgcolor: '#fff',
  plot_bgcolor: '#fff',
  showlegend: false,
  font: { family: 'DejaVu Sans', color: '#000' },
  title: {
    text: 'LensMC CTI-Gal Validation - Exposure 0 - snr (1.0000221729278564, 4.597217559814453)',
    font: { family: 'DejaVu Sans', size: 16, color: '#000' },
    x: 0.5, xanchor: 'center', y: 0.975, yanchor: 'middle'
  },
  xaxis: {
    range: xRange,
    tickvals: [0, 500, 1000, 1500, 2000],
    ticks: 'outside', ticklen: 5, tickwidth: 1, tickcolor: '#000',
    tickfont: axisFont,
    showgrid: false, zeroline: false,
    showline: true, linecolor: '#000', linewidth: 1, mirror: true,
    title: { text: 'Readout Register Distance (pix)', font: labelFont, standoff: 8 }
  },
  yaxis: {
    range: yRange,
    tickvals: [-0.75, -0.5, -0.25, 0, 0.25, 0.5, 0.75],
    tickformat: '.2f',
    ticks: 'outside', ticklen: 5, tickwidth: 1, tickcolor: '#000',
    tickfont: axisFont,
    showgrid: false, zeroline: false,
    showline: true, linecolor: '#000', linewidth: 1, mirror: true,
    title: { text: 'e1 (detector coordinates)', font: labelFont, standoff: 3 }
  },
  shapes: [
    { type: 'line', xref: 'paper', x0: 0, x1: 1, yref: 'y', y0: 0, y1: 0, line: { color: '#000', width: 1.5 }, layer: 'above' }
  ],
  annotations: [
    {
      xref: 'paper', yref: 'paper', x: 0.022, y: 0.958, xanchor: 'left', yanchor: 'middle', align: 'left',
      showarrow: false,
      text: 'slope = 0.0000098 +/- 0.0000045 (2.2<i>σ</i>)',
      font: noteFont
    },
    {
      xref: 'paper', yref: 'paper', x: 0.022, y: 0.909, xanchor: 'left', yanchor: 'middle', align: 'left',
      showarrow: false,
      text: 'intercept = 0.01915 +/- 0.00526 (3.6<i>σ</i>)',
      font: noteFont
    }
  ]
};

Plotly.newPlot('chart', data, layout, { displayModeBar: false, staticPlot: true });
</script>
</body>
</html>
